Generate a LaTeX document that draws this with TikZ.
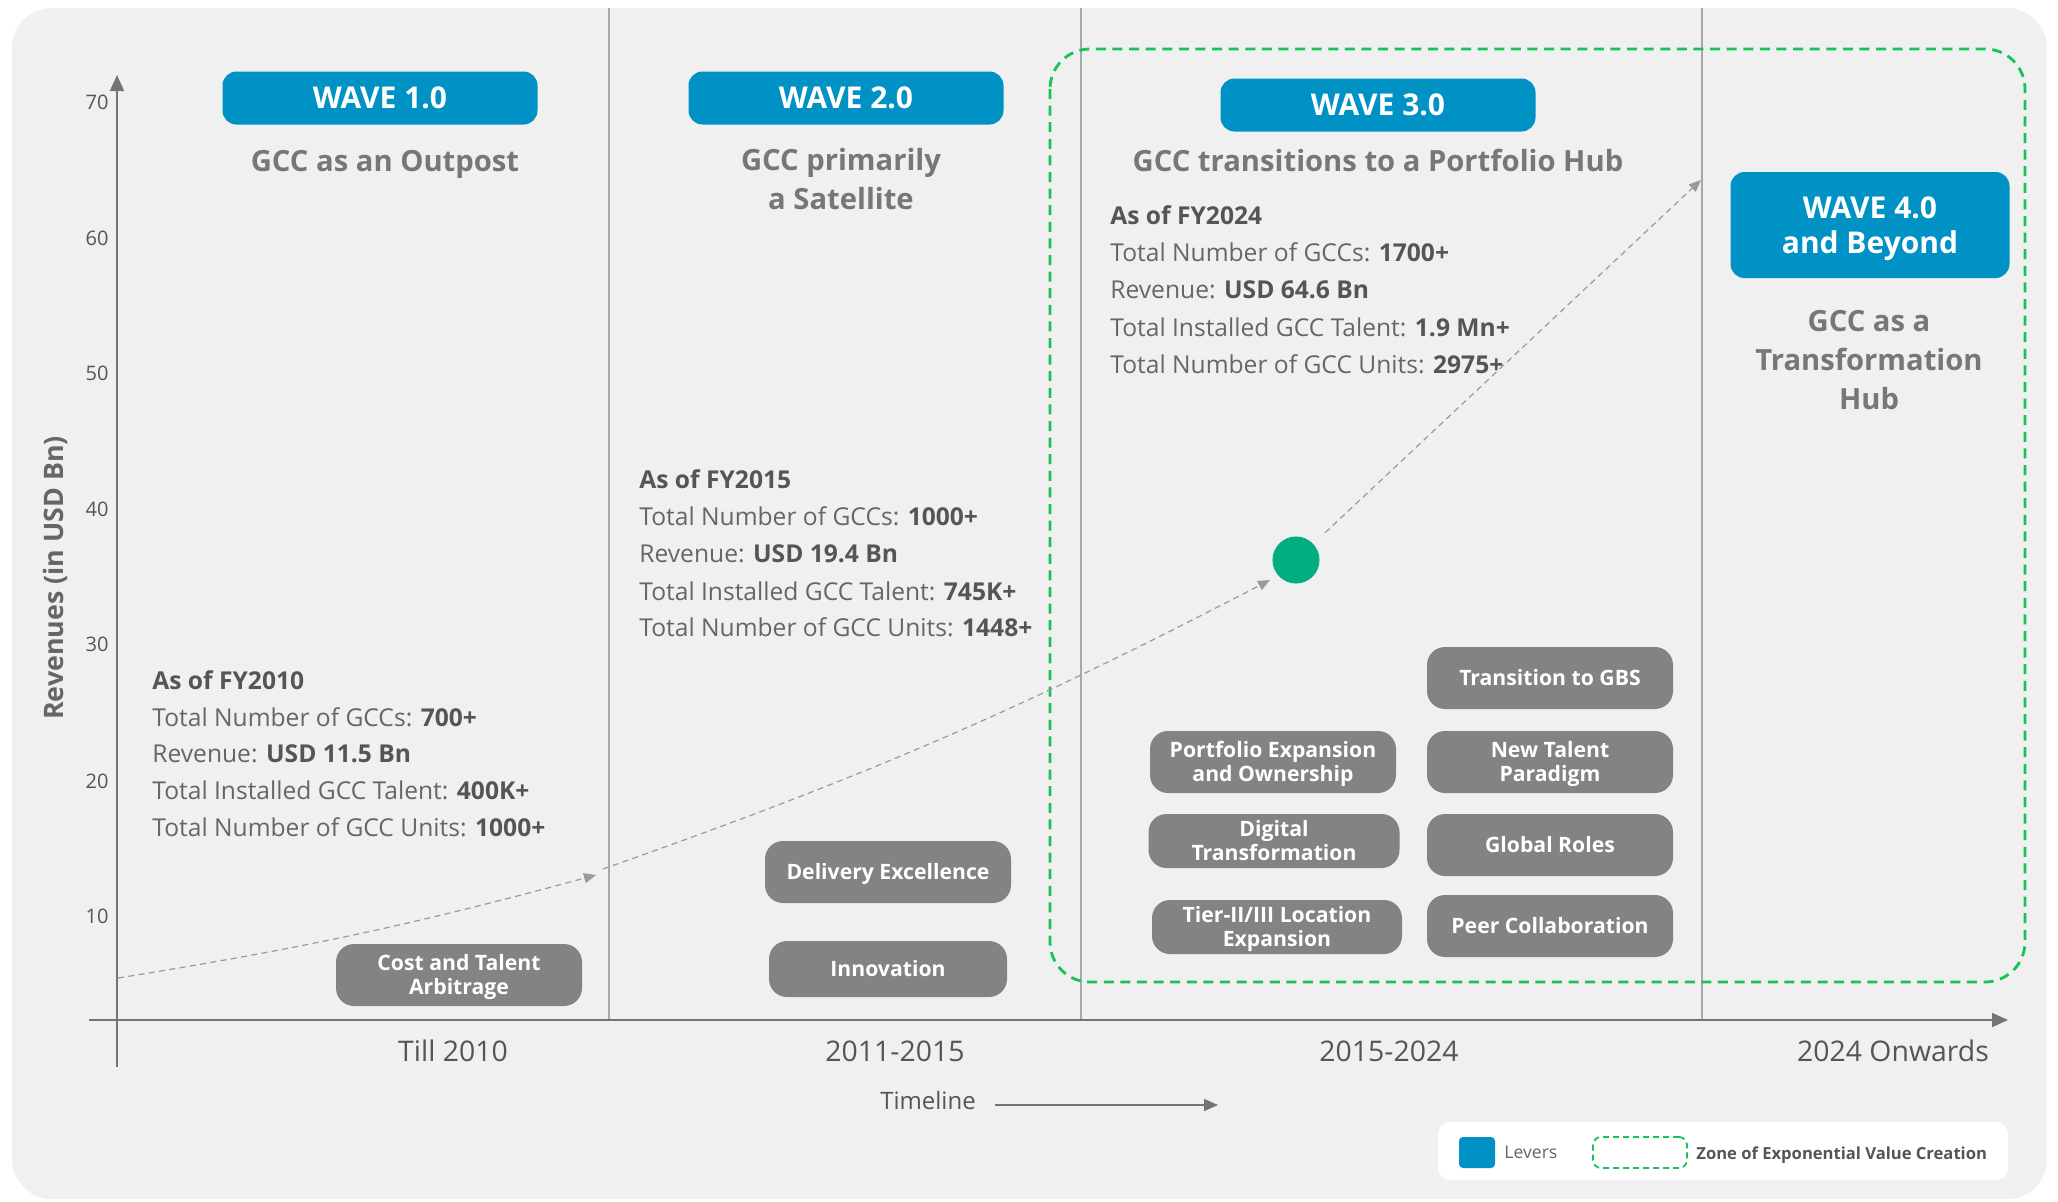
\documentclass[tikz,border=0pt]{standalone}
\usepackage{fontspec}
\setmainfont{Open Sans}
\usetikzlibrary{arrows.meta}
\definecolor{bgc}{HTML}{F0F0F0}
\definecolor{waveblue}{HTML}{0092C5}
\definecolor{levgray}{HTML}{838385}
\definecolor{txtdark}{HTML}{555555}
\definecolor{txtmid}{HTML}{666666}
\definecolor{subgray}{HTML}{777777}
\definecolor{zonegreen}{HTML}{17C257}
\definecolor{dotgreen}{HTML}{00AE80}
\definecolor{axisgray}{HTML}{747474}
\definecolor{divgray}{HTML}{A8A8A8}
\definecolor{trendgray}{HTML}{9A9A9A}
\newcommand\infoval[1]{{\bfseries\color{txtdark}#1}}
\begin{document}
\begin{tikzpicture}[x=0.5pt,y=-0.5pt,
 wavebox/.style={fill=waveblue, rounded corners=7pt, text=white, font=\fontsize{15}{17.5}\selectfont\bfseries, align=center, inner sep=0pt, minimum width=157.5pt, minimum height=26.5pt},
 subtitle/.style={text=subgray, font=\fontsize{14.6}{19.7}\selectfont\bfseries, align=center, inner sep=0pt},
 lever/.style={fill=levgray, rounded corners=9pt, text=white, font=\fontsize{10.6}{12.3}\selectfont\bfseries, align=center, inner sep=0pt, minimum width=123pt, minimum height=31pt, text depth=0.6pt},
 info/.style={anchor=base west, inner sep=0pt, text=txtmid, font=\fontsize{12.3}{14}\selectfont},
 ytick/.style={anchor=east, inner sep=0pt, text=txtdark, font=\fontsize{10}{12}\selectfont},
 xlab/.style={inner sep=0pt, text=txtdark, font=\fontsize{14.2}{16}\selectfont},
 trend/.style={trendgray, line width=0.6pt, dash pattern=on 3pt off 2.2pt, -{Triangle[length=6pt,width=5pt]}},
 axisline/.style={axisgray, line width=0.9pt, -{Triangle[length=8pt,width=7pt]}},
 divider/.style={divgray, line width=0.7pt},
 zone/.style={zonegreen, line width=1.4pt, dash pattern=on 5pt off 3.3pt, rounded corners=20pt},
]
\useasboundingbox (0,0) rectangle (2058,1201);
\fill[white] (0,0) rectangle (2058,1201);
\fill[bgc, rounded corners=20pt] (12,8) rectangle (2047,1199);

% dividers
\draw[divider] (609,8) -- (609,1020);
\draw[divider] (1081,8) -- (1081,1020);
\draw[divider] (1702,8) -- (1702,1020);

% zone
\draw[zone] (1050,49) rectangle (2025,982);

% axes
\coordinate (yaxb) at (117,1067);
\coordinate (yaxt) at (117,75);
\coordinate (xaxl) at (89,1020);
\coordinate (xaxr) at (2008,1020);
\draw[axisline] (yaxb) -- (yaxt);
\draw[axisline] (xaxl) -- (xaxr);

% y ticks
\node[ytick] (y70) at (109,102) {70};
\node[ytick] (y60) at (109,238) {60};
\node[ytick] (y50) at (109,373) {50};
\node[ytick] (y40) at (109,509) {40};
\node[ytick] (y30) at (109,644) {30};
\node[ytick] (y20) at (109,781) {20};
\node[ytick] (y10) at (109,916) {10};
\node[rotate=90, text=txtmid, font=\fontsize{13.4}{15}\selectfont\bfseries, inner sep=0pt] (ytitle) at (55,578) {Revenues (in USD Bn)};

% waves
\node[wavebox] (w1) at (380,98) {WAVE 1.0};
\node[wavebox] (w2) at (846,98) {WAVE 2.0};
\node[wavebox] (w3) at (1378,105) {WAVE 3.0};
\node[wavebox, minimum width=139.5pt, minimum height=53pt, text depth=0pt] (w4) at (1870,225) {WAVE 4.0\\and Beyond};

\node[subtitle] (s1) at (385,164) {GCC as an Outpost};
\node[subtitle] (s2) at (841,179) {GCC primarily\\a Satellite};
\node[subtitle] (s3) at (1378,160) {GCC transitions to a Portfolio Hub};
\node[subtitle] (s4) at (1869,360) {GCC as a\\Transformation\\Hub};

% info blocks
\node[info] (a1) at (152,689) {\infoval{As of FY2010}};
\node[info] (a2) at (152,726) {Total Number of GCCs: \infoval{700+}};
\node[info] (a3) at (152,762) {Revenue: \infoval{USD 11.5 Bn}};
\node[info] (a4) at (152,799) {Total Installed GCC Talent: \infoval{400K+}};
\node[info] (a5) at (152,836) {Total Number of GCC Units: \infoval{1000+}};

\node[info] (b1) at (639,488) {\infoval{As of FY2015}};
\node[info] (b2) at (639,525) {Total Number of GCCs: \infoval{1000+}};
\node[info] (b3) at (639,562) {Revenue: \infoval{USD 19.4 Bn}};
\node[info] (b4) at (639,600) {Total Installed GCC Talent: \infoval{745K+}};
\node[info] (b5) at (639,636) {Total Number of GCC Units: \infoval{1448+}};

\node[info] (c1) at (1110,224) {\infoval{As of FY2024}};
\node[info] (c2) at (1110,261) {Total Number of GCCs: \infoval{1700+}};
\node[info] (c3) at (1110,298) {Revenue: \infoval{USD 64.6 Bn}};
\node[info] (c4) at (1110,336) {Total Installed GCC Talent: \infoval{1.9 Mn+}};
\node[info] (c5) at (1110,373) {Total Number of GCC Units: \infoval{2975+}};

% levers
\node[lever] (l1) at (459,975) {Cost and Talent\\Arbitrage};
\node[lever] (l2) at (888,872) {Delivery Excellence};
\node[lever, minimum width=119pt, minimum height=28pt] (l3) at (888,969) {Innovation};
\node[lever] (l4) at (1550,678) {Transition to GBS};
\node[lever] (l5) at (1273,762) {Portfolio Expansion\\and Ownership};
\node[lever] (l6) at (1550,762) {New Talent\\Paradigm};
\node[lever, minimum width=125.5pt, minimum height=27pt] (l7) at (1274,841) {Digital\\Transformation};
\node[lever] (l8) at (1550,845) {Global Roles};
\node[lever, minimum width=125pt, minimum height=27pt] (l9) at (1277,927) {Tier-II/III Location\\Expansion};
\node[lever] (l10) at (1550,926) {Peer Collaboration};

% trend
\node[circle, fill=dotgreen, minimum size=23.5pt, inner sep=0pt] (gc) at (1296,560) {};
\coordinate (t0) at (118,978);
\coordinate (t1) at (596,875);
\coordinate (t1b) at (603,869);
\coordinate (t2) at (1270,580);
\coordinate (t3) at (1701,180);
\draw[trend] (t0) to[bend right=3] (t1);
\draw[trend] (t1b) to[bend right=4] (t2);
\draw[trend, shorten <=8pt] (gc) -- (t3);

% x labels
\node[xlab] (x1) at (453,1051) {Till 2010};
\node[xlab] (x2) at (895,1051) {2011-2015};
\node[xlab] (x3) at (1389,1051) {2015-2024};
\node[xlab] (x4) at (1893,1051) {2024 Onwards};

\node[inner sep=0pt, text=txtdark, font=\fontsize{12}{14}\selectfont] (tl) at (928,1100) {Timeline};
\coordinate (tla) at (995,1105);
\coordinate (tlb) at (1218,1105);
\draw[axisgray, line width=0.8pt, -{Triangle[length=7pt,width=6pt]}] (tla) -- (tlb);

% legend
\node[fill=white, rounded corners=6pt, minimum width=285pt, minimum height=29pt, inner sep=0pt] (leg) at (1723,1151) {};
\node[fill=waveblue, rounded corners=2pt, minimum width=18pt, minimum height=15.5pt, inner sep=0pt] (legsq) at (1477,1152.5) {};
\node[anchor=west, inner sep=0pt, text=txtmid, font=\fontsize{8.8}{10}\selectfont] (legl) at (1504,1152) {Levers};
\node[draw=zonegreen, line width=0.9pt, dash pattern=on 3pt off 2pt, rounded corners=4pt, minimum width=47pt, minimum height=15.5pt, inner sep=0pt] (legz) at (1640,1152.5) {};
\node[anchor=west, inner sep=0pt, text=txtdark, font=\fontsize{8.3}{10}\selectfont\bfseries] (legzt) at (1696,1155) {Zone of Exponential Value Creation};
\end{tikzpicture}
\end{document}
